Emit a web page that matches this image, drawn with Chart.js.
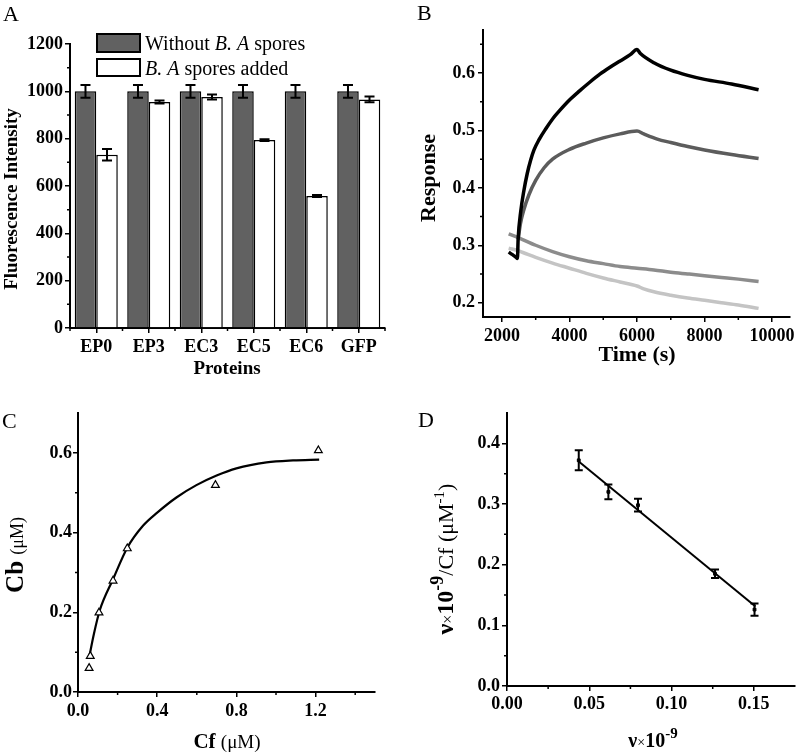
<!DOCTYPE html>
<html>
<head>
<meta charset="utf-8">
<script src="https://cdn.jsdelivr.net/npm/chart.js@4.4.1/dist/chart.umd.min.js"></script>
<style>
body { margin: 0; background: #fff; }
#wrap { position: relative; width: 800px; height: 755px; }
canvas { position: absolute; }
</style>
</head>
<body>
<div id="wrap">
  <canvas id="chartA" width="400" height="380" style="left:0;top:0;width:400px;height:380px"></canvas>
  <canvas id="chartB" width="400" height="380" style="left:400px;top:0;width:400px;height:380px"></canvas>
  <canvas id="chartC" width="400" height="375" style="left:0;top:380px;width:400px;height:375px"></canvas>
  <canvas id="chartD" width="400" height="375" style="left:400px;top:380px;width:400px;height:375px"></canvas>
</div>
<script>
// panel A
var proteins = ['EP0', 'EP3', 'EC3', 'EC5', 'EC6', 'GFP'];
var withoutSpores = [1000, 1000, 1000, 1000, 1000, 1000];
var withoutErr = [27, 27, 27, 27, 27, 27];
var sporesAdded = [732, 955, 976, 794, 558, 966];
var sporesErr = [24, 6, 11, 4, 4, 12];
var fluoTicks = [0, 200, 400, 600, 800, 1000, 1200];
var fluoMinor = [100, 300, 500, 700, 900, 1100];

// panel B (time s, response)
var timeTicks = [2000, 4000, 6000, 8000, 10000];
var timeMinor = [3000, 5000, 7000, 9000];
var responseTicks = [0.2, 0.3, 0.4, 0.5, 0.6];
var responseMinor = [0.25, 0.35, 0.45, 0.55, 0.65];
var curveBlack = [[2200, 0.288], [2300, 0.284], [2420, 0.279], [2460, 0.277], [2480, 0.31], [2560, 0.36],
    [2650, 0.395], [2750, 0.425], [2850, 0.448], [2950, 0.466], [3100, 0.484], [3300, 0.503], [3500, 0.52],
    [3700, 0.534], [4000, 0.553], [4300, 0.569], [4600, 0.584], [4900, 0.598], [5200, 0.61], [5500, 0.621],
    [5800, 0.632], [6000, 0.641], [6100, 0.634], [6500, 0.618], [7000, 0.605], [7500, 0.596], [8000, 0.589],
    [8800, 0.581], [9600, 0.571]];
var curveDark = [[2480, 0.31], [2550, 0.338], [2650, 0.362], [2800, 0.388], [3000, 0.413], [3250, 0.435],
    [3500, 0.45], [4000, 0.467], [4500, 0.478], [5000, 0.487], [5500, 0.494], [6000, 0.499], [6200, 0.494],
    [6600, 0.485], [7000, 0.479], [7500, 0.472], [8000, 0.466], [8800, 0.458], [9600, 0.451]];
var curveMid = [[2200, 0.32], [2500, 0.313], [3000, 0.3], [3500, 0.289], [4000, 0.28], [4500, 0.273],
    [5000, 0.268], [5500, 0.263], [6000, 0.26], [6500, 0.257], [7000, 0.253], [7500, 0.25], [8000, 0.247],
    [8500, 0.244], [9000, 0.241], [9600, 0.237]];
var curveLight = [[2200, 0.295], [2500, 0.29], [3000, 0.279], [3500, 0.269], [4000, 0.26], [4500, 0.251],
    [5000, 0.243], [5500, 0.236], [6000, 0.229], [6200, 0.224], [6500, 0.219], [7000, 0.213], [7500, 0.208],
    [8000, 0.204], [8500, 0.2], [9000, 0.196], [9600, 0.19]];

// panel C
var cfTicks = [0, 0.4, 0.8, 1.2];
var cfMinor = [0.2, 0.6, 1.0, 1.4];
var cbTicks = [0, 0.2, 0.4, 0.6];
var cbMinor = [0.1, 0.3, 0.5];
var cfPoints = [0.056, 0.062, 0.106, 0.177, 0.249, 0.694, 1.214];
var cbPoints = [0.060, 0.090, 0.199, 0.279, 0.360, 0.519, 0.606];
var fitCf = [0.056, 0.08, 0.11, 0.177, 0.249, 0.328, 0.4, 0.497, 0.598, 0.7, 0.8, 0.952, 1.086, 1.218];
var fitCb = [0.086, 0.145, 0.205, 0.283, 0.362, 0.417, 0.45, 0.488, 0.519, 0.543, 0.561, 0.576, 0.581, 0.583];

// panel D
var nuTicks = [0, 0.05, 0.10, 0.15];
var nuMinor = [0.025, 0.075, 0.125];
var ratioTicks = [0, 0.1, 0.2, 0.3, 0.4];
var ratioMinor = [0.05, 0.15, 0.25, 0.35];
var nuX = [0.0436, 0.0616, 0.0796, 0.1264, 0.1504];
var nuY = [0.372, 0.320, 0.298, 0.185, 0.126];
var nuErr = [0.0165, 0.012, 0.0105, 0.007, 0.01];
var lineX = [0.0436, 0.151];
var lineY = [0.370, 0.131];

var FONT = 'Liberation Serif';
Chart.defaults.font.family = FONT;
Chart.defaults.font.size = 18;
Chart.defaults.font.weight = 'bold';
Chart.defaults.color = '#000';
Chart.defaults.animation = false;

function toXY(xs, ys) {
    return xs.map(function (x, i) { return { x: x, y: ys[i] }; });
}
function pairs(arr) {
    return arr.map(function (p) { return { x: p[0], y: p[1] }; });
}

function drawRuns(ctx, x, y, rot, runs, align) {
    ctx.save();
    ctx.translate(x, y);
    ctx.rotate(rot);
    var total = 0;
    runs.forEach(function (r) { ctx.font = r.f; r.w = ctx.measureText(r.t).width; total += r.w; });
    var cx = align === 'left' ? 0 : -total / 2;
    ctx.textBaseline = 'alphabetic';
    ctx.textAlign = 'left';
    ctx.fillStyle = '#000';
    runs.forEach(function (r) { ctx.font = r.f; ctx.fillText(r.t, cx, r.dy || 0); cx += r.w; });
    ctx.restore();
}

var deco = {};

var decoPlugin = {
    id: 'deco',
    afterDatasetsDraw: function (chart) {
        var cfg = deco[chart.canvas.id];
        if (!cfg) return;
        var ctx = chart.ctx, ys = chart.scales.y;
        ctx.save();
        ctx.strokeStyle = '#000';
        ctx.lineWidth = 2;
        (cfg.errors || []).forEach(function (e) {
            var meta = chart.getDatasetMeta(e.dataset);
            var vals = chart.data.datasets[e.dataset].data;
            meta.data.forEach(function (el, i) {
                var v = typeof vals[i] === 'object' ? vals[i].y : vals[i];
                var top = ys.getPixelForValue(v + e.err[i]);
                var bot = ys.getPixelForValue(v - e.err[i]);
                var c = e.cap / 2;
                ctx.beginPath();
                ctx.moveTo(el.x, top); ctx.lineTo(el.x, bot);
                ctx.moveTo(el.x - c, top); ctx.lineTo(el.x + c, top);
                ctx.moveTo(el.x - c, bot); ctx.lineTo(el.x + c, bot);
                ctx.stroke();
            });
        });
        ctx.restore();
    },
    afterDraw: function (chart) {
        var cfg = deco[chart.canvas.id];
        if (!cfg) return;
        var ctx = chart.ctx, xs = chart.scales.x, ys = chart.scales.y;
        ctx.save();
        ctx.strokeStyle = '#000';
        ctx.lineWidth = 1.5;
        ctx.beginPath();
        (cfg.minorX || []).forEach(function (v) {
            var px = xs.getPixelForValue(v);
            ctx.moveTo(px, xs.top); ctx.lineTo(px, xs.top + 3);
        });
        (cfg.minorY || []).forEach(function (v) {
            var py = ys.getPixelForValue(v);
            ctx.moveTo(ys.right, py); ctx.lineTo(ys.right - 3, py);
        });
        ctx.stroke();
        (cfg.boxes || []).forEach(function (b) {
            ctx.fillStyle = b.fill;
            ctx.fillRect(b.x, b.y, b.w, b.h);
            ctx.lineWidth = 2;
            ctx.strokeRect(b.x, b.y, b.w, b.h);
        });
        ctx.restore();
        (cfg.texts || []).forEach(function (t) {
            drawRuns(ctx, t.x, t.y, t.rot || 0, t.runs, t.align);
        });
    }
};
Chart.register(decoPlugin);

function axisOpts(extra) {
    var o = {
        grid: { drawOnChartArea: false, drawTicks: true, tickLength: 5, color: '#000', lineWidth: 1.5 },
        border: { display: true, color: '#000', width: 2 },
        ticks: { color: '#000', padding: 2, font: { size: 18, weight: 'bold' } }
    };
    for (var k in extra) {
        if (k === 'ticks' || k === 'grid') Object.assign(o[k], extra[k]);
        else o[k] = extra[k];
    }
    return o;
}
function fixTicks(values) {
    return function (s) { s.ticks = values.map(function (v) { return { value: v }; }); };
}
function fixWidth(w) { return function (s) { s.width = w; }; }
function fixHeight(h) { return function (s) { s.height = h; }; }

var LG = '20px ' + FONT, LGI = 'italic 20px ' + FONT;

// ---------- A ----------
deco.chartA = {
    minorX: [-0.5, 0.5, 1.5, 2.5, 3.5, 4.5, 5.5],
    minorY: fluoMinor,
    errors: [{ dataset: 0, err: withoutErr, cap: 10 }, { dataset: 1, err: sporesErr, cap: 10 }],
    boxes: [{ x: 97, y: 34, w: 43, h: 18, fill: '#616161' }, { x: 97, y: 59, w: 43, h: 17, fill: '#fff' }],
    texts: [
        { x: 3, y: 21, runs: [{ t: 'A', f: '22px ' + FONT }], align: 'left' },
        { x: 145, y: 50, align: 'left', runs: [{ t: 'Without ', f: LG }, { t: 'B. A', f: LGI }, { t: ' spores', f: LG }] },
        { x: 145, y: 75, align: 'left', runs: [{ t: 'B. A', f: LGI }, { t: ' spores added', f: LG }] },
        { x: 17, y: 199, rot: -Math.PI / 2, runs: [{ t: 'Fluorescence Intensity', f: 'bold 19px ' + FONT }] },
        { x: 227, y: 374, runs: [{ t: 'Proteins', f: 'bold 19px ' + FONT }] }
    ]
};
new Chart(document.getElementById('chartA'), {
    type: 'bar',
    data: {
        labels: proteins,
        datasets: [
            { label: 'Without B. A spores', data: withoutSpores, backgroundColor: '#616161', borderColor: '#000', borderWidth: 1.5 },
            { label: 'B. A spores added', data: sporesAdded, backgroundColor: '#fff', borderColor: '#000', borderWidth: 1.5 }
        ]
    },
    options: {
        responsive: false,
        categoryPercentage: 0.82,
        barPercentage: 1,
        layout: { padding: { top: 44, right: 15, left: 0, bottom: 0 } },
        plugins: { legend: { display: false }, tooltip: { enabled: false } },
        scales: {
            x: axisOpts({ grid: { offset: false }, ticks: { padding: 4 }, afterFit: fixHeight(52) }),
            y: axisOpts({ min: 0, max: 1200, afterBuildTicks: fixTicks(fluoTicks),
                ticks: { callback: function (v) { return String(v); } }, afterFit: fixWidth(70) })
        }
    }
});

// ---------- B ----------
deco.chartB = {
    minorX: timeMinor,
    minorY: responseMinor,
    texts: [
        { x: 17, y: 20, runs: [{ t: 'B', f: '22px ' + FONT }], align: 'left' },
        { x: 35, y: 178, rot: -Math.PI / 2, runs: [{ t: 'Response', f: 'bold 22px ' + FONT }] },
        { x: 237, y: 361, runs: [{ t: 'Time (s)', f: 'bold 22px ' + FONT }] }
    ]
};
function lineSet(data, color) {
    return { data: pairs(data), showLine: true, borderColor: color, backgroundColor: color, borderWidth: 3.5,
        pointRadius: 0, cubicInterpolationMode: 'monotone' };
}
new Chart(document.getElementById('chartB'), {
    type: 'scatter',
    data: {
        datasets: [
            lineSet(curveBlack, '#000000'),
            lineSet(curveDark, '#5c5c5c'),
            lineSet(curveMid, '#8c8c8c'),
            lineSet(curveLight, '#c4c4c4')
        ]
    },
    options: {
        responsive: false,
        layout: { padding: { top: 30, right: 10, left: 0, bottom: 0 } },
        plugins: { legend: { display: false }, tooltip: { enabled: false } },
        scales: {
            x: axisOpts({ type: 'linear', min: 1440, max: 10530, afterBuildTicks: fixTicks(timeTicks),
                ticks: { padding: 4, callback: function (v) { return String(v); } }, afterFit: fixHeight(63) }),
            y: axisOpts({ min: 0.175, max: 0.675, afterBuildTicks: fixTicks(responseTicks),
                ticks: { padding: 3, callback: function (v) { return v.toFixed(1); } }, afterFit: fixWidth(83) })
        }
    }
});

// ---------- C ----------
deco.chartC = {
    minorX: cfMinor,
    minorY: cbMinor,
    texts: [
        { x: 2, y: 48, runs: [{ t: 'C', f: '22px ' + FONT }], align: 'left' },
        { x: 23, y: 175, rot: -Math.PI / 2, runs: [{ t: 'Cb ', f: 'bold 25px ' + FONT }, { t: '(\u03bcM)', f: '18px ' + FONT }] },
        { x: 227, y: 368, runs: [{ t: 'Cf ', f: 'bold 21px ' + FONT }, { t: '(\u03bcM)', f: '19px ' + FONT }] }
    ]
};
new Chart(document.getElementById('chartC'), {
    type: 'scatter',
    data: {
        datasets: [
            { data: toXY(cfPoints, cbPoints), pointStyle: 'triangle', pointRadius: 4.5, borderWidth: 1.2,
                borderColor: '#000', backgroundColor: '#fff' },
            { data: toXY(fitCf, fitCb), showLine: true, pointRadius: 0, borderColor: '#000', borderWidth: 2.2,
                cubicInterpolationMode: 'monotone' }
        ]
    },
    options: {
        responsive: false,
        layout: { padding: { top: 33, right: 25, left: 0, bottom: 0 } },
        plugins: { legend: { display: false }, tooltip: { enabled: false } },
        scales: {
            x: axisOpts({ type: 'linear', min: 0, max: 1.5, afterBuildTicks: fixTicks(cfTicks),
                ticks: { padding: 4, callback: function (v) { return v.toFixed(1); } }, afterFit: fixHeight(63) }),
            y: axisOpts({ min: 0, max: 0.7, afterBuildTicks: fixTicks(cbTicks),
                ticks: { padding: 1, callback: function (v) { return v.toFixed(1); } }, afterFit: fixWidth(78) })
        }
    }
});

// ---------- D ----------
var NU = 'bold 24px ' + FONT;
deco.chartD = {
    minorX: nuMinor,
    minorY: ratioMinor,
    errors: [{ dataset: 0, err: nuErr, cap: 8 }],
    texts: [
        { x: 18, y: 47, runs: [{ t: 'D', f: '22px ' + FONT }], align: 'left' },
        { x: 53, y: 179, rot: -Math.PI / 2, runs: [
            { t: '\u03bd', f: NU }, { t: '\u00d7', f: '16px ' + FONT }, { t: '10', f: NU },
            { t: '-9', f: 'bold 18px ' + FONT, dy: -10 }, { t: '/Cf (\u03bcM', f: '22px ' + FONT },
            { t: '-1', f: '15px ' + FONT, dy: -9 }, { t: ')', f: '22px ' + FONT }] },
        { x: 253, y: 367, runs: [
            { t: '\u03bd', f: 'bold 20px ' + FONT }, { t: '\u00d7', f: '14px ' + FONT }, { t: '10', f: 'bold 20px ' + FONT },
            { t: '-9', f: 'bold 15px ' + FONT, dy: -9 }] }
    ]
};
new Chart(document.getElementById('chartD'), {
    type: 'scatter',
    data: {
        datasets: [
            { data: toXY(nuX, nuY), pointStyle: 'rect', pointRadius: 2, borderColor: '#000', backgroundColor: '#000' },
            { data: toXY(lineX, lineY), showLine: true, pointRadius: 0, borderColor: '#000', borderWidth: 2 }
        ]
    },
    options: {
        responsive: false,
        layout: { padding: { top: 33, right: 2, left: 0, bottom: 0 } },
        plugins: { legend: { display: false }, tooltip: { enabled: false } },
        scales: {
            x: axisOpts({ type: 'linear', min: 0, max: 0.175, afterBuildTicks: fixTicks(nuTicks),
                ticks: { padding: 3, callback: function (v) { return v.toFixed(2); } }, afterFit: fixHeight(69) }),
            y: axisOpts({ min: 0, max: 0.45, afterBuildTicks: fixTicks(ratioTicks),
                ticks: { padding: 2, callback: function (v) { return v.toFixed(1); } }, afterFit: fixWidth(107) })
        }
    }
});
</script>
</body>
</html>
